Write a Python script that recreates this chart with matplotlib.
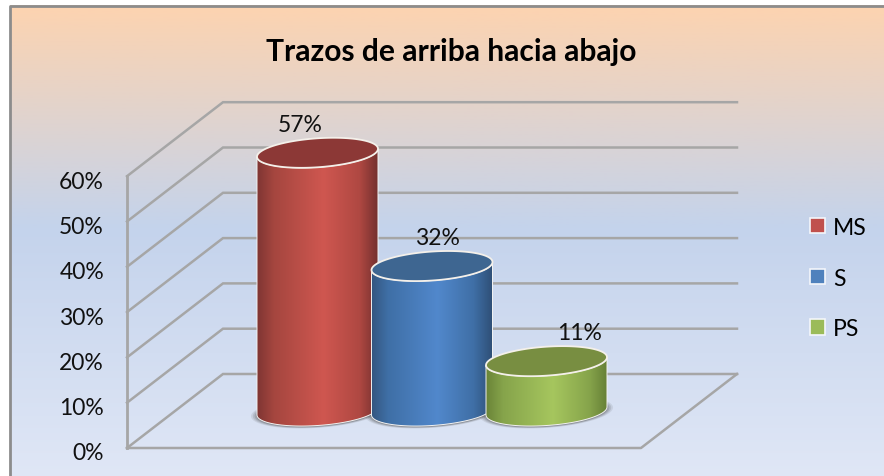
import numpy as np
import matplotlib
matplotlib.use('Agg')
import matplotlib.pyplot as plt
from matplotlib.colors import LinearSegmentedColormap
from matplotlib.patches import Patch, Polygon

plt.rcParams['font.family'] = ['Lato', 'DejaVu Sans']

# datos del grafico
categorias = ['MS', 'S', 'PS']
valores = [57, 32, 11]
ticks = [0, 10, 20, 30, 40, 50, 60]
titulo = 'Trazos de arriba hacia abajo'

colores = ['#C0504D', '#4F81BD', '#9BBB59']
tapas = ['#8C3836', '#3E6691', '#788E41']
rampas = [
    ['#7F3533', '#A5463F', '#CF5750', '#AF4842', '#74302E'],
    ['#34567F', '#3F6FA6', '#5188CC', '#3F6FA6', '#2F5078'],
    ['#6A8438', '#86A44B', '#A6C65E', '#86A44B', '#657F35'],
]
desp_etiqueta = [-0.15, 0.05, 0.29]

W, H = 884, 477
# escala: 114.5 px por categoria, 4.53 px por punto porcentual
PX, PY = 114.5, 4.53
X0, Y0 = 317.5, 449
# fondo del grafico en px convertidos a datos
DX, DY = 96 / PX, 74 / PY
RX, RY, SK = 60.5 / PX, 14.5 / PY, 4 / PY


def px(x):
    return (x - X0) / PX


def py(y):
    return (Y0 - y) / PY


fig = plt.figure(figsize=(W / 100, H / 100), dpi=100)
ax = fig.add_axes([0, 0, 1, 1])
ax.axis('off')

# Fondo degradado
grad = LinearSegmentedColormap.from_list('fondo', [(0, '#FDD3B0'), (0.47, '#C4D3EC'), (1, '#E0E7F6')])
ax.imshow(np.linspace(0, 1, 256).reshape(-1, 1), cmap=grad, aspect='auto', zorder=0,
          extent=[px(10), px(W), py(480), py(6)])
ax.plot([px(10), px(10), px(W)], [py(480), py(7), py(7)], color='#8C8C8C', lw=2, zorder=1)

# Paredes y lineas de la cuadricula
gris = '#A6A6A6'
xi = px(127)
xf = px(641)
for t in ticks:
    ax.plot([xi, xi + DX, xi + DX + (xf - xi)], [t, t + DY, t + DY], color=gris, lw=1.8, zorder=2,
            solid_joinstyle='miter')
    ax.text(px(104), t - 1.1, f'{t}%', ha='right', va='center', fontsize=16.5, color='#111111', zorder=6)
ax.plot([xi, xi], [0, ticks[-1]], color=gris, lw=2, zorder=2)
ax.plot([xi, xf, xf + DX], [0, 0, DY], color=gris, lw=1.8, zorder=2)


def elipse(cx, cy):
    t = np.linspace(0, 2 * np.pi, 121)
    return cx + RX * np.cos(t), cy + SK * np.cos(t) + RY * np.sin(t)


def cilindro(i, v):
    cx = i
    cb = 0.5 * DY
    # sombra
    for k, a in zip([1.10, 1.07, 1.04, 1.01], [0.10, 0.14, 0.18, 0.25]):
        xs, ys = elipse(cx, cb)
        ax.fill(cx + (xs - cx) * k, cb + (ys - cb) * k - 0.2, color='#404040', alpha=a, lw=0, zorder=3 + i * 0.1)
    # cuerpo
    t = np.linspace(np.pi, 2 * np.pi, 61)
    xb = cx + RX * np.cos(t)
    yb = cb + SK * np.cos(t) + RY * np.sin(t)
    t2 = t[::-1]
    xt = cx + RX * np.cos(t2)
    yt = cb + v + SK * np.cos(t2) + RY * np.sin(t2)
    verts = np.column_stack([np.r_[xb, xt], np.r_[yb, yt]])
    forma = Polygon(verts, closed=True, transform=ax.transData, facecolor='none', edgecolor='#F2F2F2', lw=0.7,
                    zorder=3.3 + i * 0.1)
    cm = LinearSegmentedColormap.from_list('c', [(0, rampas[i][0]), (0.14, rampas[i][1]), (0.55, rampas[i][2]),
                                                 (0.85, rampas[i][3]), (1, rampas[i][4])])
    im = ax.imshow(np.linspace(0, 1, 256).reshape(1, -1), cmap=cm, aspect='auto', zorder=3.2 + i * 0.1,
                   extent=[cx - RX, cx + RX, cb - 2 * RY, cb + v + 2 * RY])
    ax.add_patch(forma)
    im.set_clip_path(forma)
    # tapa
    xs, ys = elipse(cx, cb + v)
    ax.fill(xs, ys, facecolor=tapas[i], edgecolor='#F4F0EA', lw=1.3, zorder=3.4 + i * 0.1)


for i, v in enumerate(valores):
    cilindro(i, v)
    ax.text(i + desp_etiqueta[i], v + 0.5 * DY + 6.3, f'{v}%', ha='center', va='center', fontsize=16.5,
            color='#111111', zorder=6)

ax.text(px(451), py(52), titulo, ha='center', va='center', fontsize=21.6, fontweight='bold', color='#000000')

# Leyenda
handles = [Patch(facecolor=c, edgecolor='#F4F6FB', lw=1.2, label=n) for c, n in zip(colores, categorias)]
ax.legend(handles=handles, loc='center left', bbox_to_anchor=(789 / W, 1 - 279 / H), frameon=False, fontsize=16.5,
          handlelength=0.67, handleheight=0.67, handletextpad=0.35, labelspacing=1.3)

ax.set_xlim(px(0), px(W))
ax.set_ylim(py(H), py(0))
fig.savefig('out.png', dpi=100)
